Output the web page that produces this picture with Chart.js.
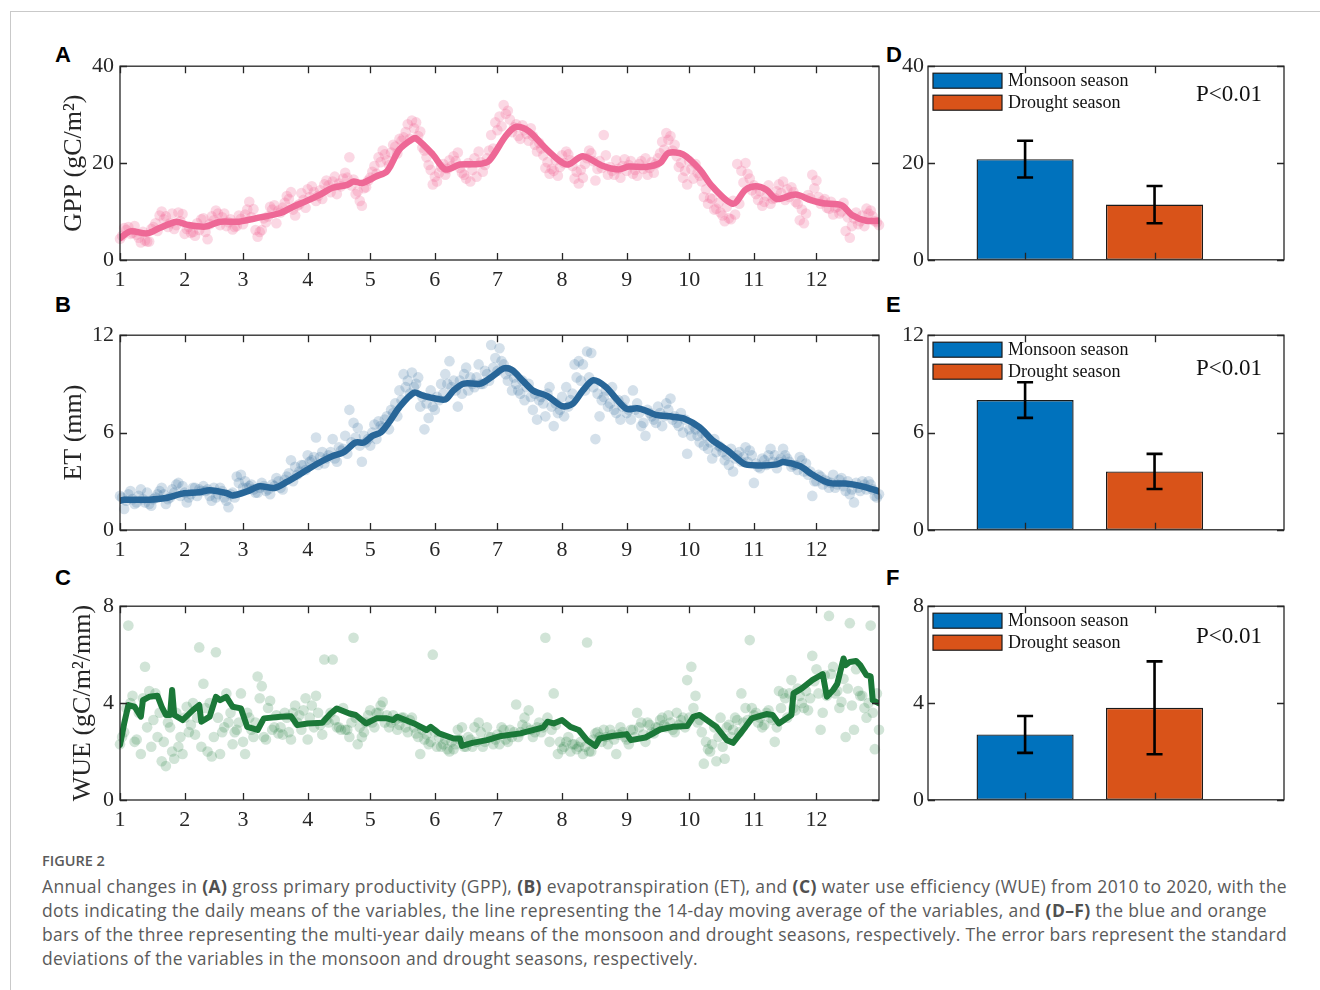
<!DOCTYPE html>
<html>
<head>
<meta charset="utf-8">
<script src="https://cdn.jsdelivr.net/npm/chart.js@4.4.1/dist/chart.umd.min.js"></script>
<style>
  body { margin: 0; background: #fff; }
  #page { position: relative; width: 1320px; height: 990px; overflow: hidden; background: #fff; }
  #frame { position: absolute; left: 10px; top: 11px; width: 1330px; height: 1000px;
           border-left: 1px solid #c9c9c9; border-top: 1px solid #c9c9c9; }
  canvas { position: absolute; }
  .letter { position: absolute; font: bold 22px "Liberation Sans", Arial, sans-serif; line-height: 22px; color: #000; }
  #figno { position: absolute; left: 42px; top: 851px; font: 600 14.5px "Open Sans", Lato, sans-serif; color: #5a5a5a; }
  #caption { position: absolute; left: 42px; top: 874px; font: 17.5px "Open Sans", Lato, sans-serif;
             line-height: 24px; color: #5a5a5a; white-space: nowrap; }
  #caption b { font-weight: 700; color: #505050; }
</style>
</head>
<body>
<div id="page">
  <div id="frame"></div>
  <div class="letter" style="left:55px;top:44px">A</div>
  <div class="letter" style="left:55px;top:294px">B</div>
  <div class="letter" style="left:55px;top:567px">C</div>
  <div class="letter" style="left:886px;top:44px">D</div>
  <div class="letter" style="left:886px;top:294px">E</div>
  <div class="letter" style="left:886px;top:567px">F</div>

  <canvas id="cA"></canvas>
  <canvas id="cB"></canvas>
  <canvas id="cC"></canvas>
  <canvas id="cD"></canvas>
  <canvas id="cE"></canvas>
  <canvas id="cF"></canvas>

  <div id="figno">FIGURE 2</div>
  <div id="caption"><span class="cl" data-w="1245">Annual changes in <b>(A)</b> gross primary productivity (GPP), <b>(B)</b> evapotranspiration (ET), and <b>(C)</b> water use efficiency (WUE) from 2010 to 2020, with the</span><br><span class="cl" data-w="1225">dots indicating the daily means of the variables, the line representing the 14-day moving average of the variables, and <b>(D–F)</b> the blue and orange</span><br><span class="cl" data-w="1245">bars of the three representing the multi-year daily means of the monsoon and drought seasons, respectively. The error bars represent the standard</span><br><span class="cl" data-w="656">deviations of the variables in the monsoon and drought seasons, respectively.</span></div>
</div>

<script>
// month ticks on a day-of-year axis
const monthStartDays = [1, 32, 60, 91, 121, 152, 182, 213, 244, 274, 305, 335];
const monthLabels = ["1", "2", "3", "4", "5", "6", "7", "8", "9", "10", "11", "12"];

// daily dots: odd days (1, 3 ... 365) and even days (2, 4 ... 364)
const oddDays = Array.from({ length: 183 }, (_, i) => 1 + 2 * i);
const evenDays = Array.from({ length: 182 }, (_, i) => 2 + 2 * i);

const gppDotsOdd = [
  4.4, 6.6, 6.8, 5.6, 5.2, 3.6, 4.0, 3.8, 6.8, 6.0,
  10.0, 9.0, 7.6, 6.4, 9.8, 9.5, 6.4, 5.6, 5.0, 6.2,
  8.6, 4.3, 9.0, 10.2, 7.2, 9.6, 7.8, 6.3, 7.0, 8.5,
  9.4, 12.0, 10.5, 4.8, 6.2, 7.8, 11.0, 11.3, 10.2, 10.8,
  13.2, 14.0, 9.2, 11.5, 12.4, 14.6, 15.2, 12.2, 14.4, 15.6,
  15.4, 16.2, 13.6, 15.2, 18.0, 21.2, 16.6, 14.2, 11.2, 15.0,
  17.0, 19.4, 21.2, 22.6, 20.6, 22.2, 23.4, 25.0, 25.3, 28.0,
  28.8, 28.4, 26.5, 22.6, 19.6, 15.6, 16.2, 19.2, 17.6, 20.6,
  21.4, 22.2, 18.0, 16.8, 16.2, 21.0, 22.4, 18.2, 21.0, 25.8,
  28.4, 29.6, 32.0, 30.8, 26.4, 28.0, 25.0, 26.8, 24.6, 25.6,
  22.4, 23.0, 19.0, 17.8, 18.4, 17.4, 21.6, 22.4, 20.6, 16.8,
  15.8, 17.0, 21.0, 22.0, 16.4, 20.4, 25.8, 17.6, 18.4, 20.6,
  17.0, 20.8, 19.6, 17.8, 17.4, 20.4, 21.0, 19.0, 18.0, 21.0,
  24.4, 26.2, 25.6, 23.8, 19.2, 17.0, 15.6, 18.8, 19.8, 17.4,
  13.0, 11.6, 12.6, 10.6, 9.8, 8.0, 8.6, 12.2, 19.8, 18.4,
  20.0, 16.8, 15.4, 12.4, 11.2, 13.2, 11.6, 12.8, 15.6, 16.2,
  14.6, 15.0, 12.0, 8.2, 7.6, 13.4, 17.6, 16.4, 11.6, 12.6,
  10.6, 9.4, 11.0, 10.0, 6.0, 4.6, 8.6, 7.4, 9.2, 10.6,
  10.2, 8.0, 7.2
];
const gppDotsEven = [
  5.0, 6.2, 5.4, 7.0, 4.6, 5.8, 3.8, 6.4, 7.6, 9.2,
  8.4, 6.8, 9.6, 7.2, 8.0, 5.4, 6.8, 5.8, 7.6, 8.4,
  5.8, 7.4, 8.2, 9.6, 8.8, 7.0, 8.4, 6.8, 9.2, 7.4,
  10.4, 8.8, 6.2, 5.8, 8.6, 9.0, 10.4, 7.6, 9.8, 11.8,
  12.6, 10.4, 11.2, 13.8, 10.8, 13.0, 14.0, 13.2, 12.6, 16.4,
  14.0, 17.2, 15.8, 16.8, 17.0, 15.4, 13.6, 12.2, 14.8, 16.4,
  18.2, 17.8, 20.2, 21.8, 19.6, 23.8, 22.0, 24.6, 26.4, 25.0,
  27.2, 25.6, 23.2, 21.2, 18.6, 17.2, 18.0, 19.8, 18.8, 19.4,
  20.4, 19.0, 17.6, 20.0, 18.6, 17.2, 20.2, 19.6, 22.6, 23.0,
  26.8, 27.6, 30.2, 29.0, 27.4, 25.6, 27.8, 26.0, 27.2, 23.8,
  24.2, 21.6, 20.2, 18.8, 20.6, 19.2, 20.0, 21.8, 19.4, 18.2,
  18.6, 19.8, 22.6, 20.4, 18.8, 19.0, 21.6, 19.2, 17.6, 18.8,
  19.4, 18.4, 20.4, 18.6, 19.8, 18.8, 17.6, 20.2, 19.8, 22.0,
  22.8, 24.8, 22.6, 21.4, 20.0, 18.4, 20.4, 16.8, 18.0, 16.2,
  14.6, 12.8, 10.4, 11.8, 9.2, 11.0, 8.4, 9.4, 11.6, 16.0,
  17.8, 14.4, 13.6, 14.2, 12.0, 15.4, 12.6, 14.2, 13.8, 12.4,
  13.0, 14.0, 11.6, 10.4, 9.6, 12.8, 14.8, 13.0, 12.2, 10.8,
  12.0, 10.8, 9.6, 11.8, 8.8, 7.0, 9.8, 8.0, 7.0, 9.6,
  9.0, 7.8
];
const gppLineDays = [
  1, 6, 14, 20, 28, 33, 42, 49, 58, 66, 78, 84, 90, 97, 103, 110, 113, 117, 124, 129,
  135, 141, 143, 151, 157, 164, 173, 178, 186, 191, 197, 205, 212, 216, 223, 232, 240, 245, 253, 260,
  264, 271, 279, 285, 295, 301, 306, 311, 316, 325, 332, 338, 347, 352, 359, 365
];
const gppLineVals = [
  4.5, 5.9, 5.5, 6.6, 7.9, 7.3, 6.9, 7.9, 7.9, 8.6, 9.7, 11.0, 12.1, 13.5, 14.9, 15.5, 16.2, 15.9, 17.3, 18.3,
  22.8, 24.9, 25.1, 21.8, 18.7, 19.7, 19.8, 20.5, 25.6, 27.5, 26.6, 23.1, 20.4, 19.7, 21.4, 19.5, 18.7, 19.3, 19.2, 20.0,
  22.1, 21.8, 18.7, 15.2, 11.6, 14.5, 15.2, 14.5, 12.6, 13.5, 12.4, 11.7, 11.3, 9.3, 8.1, 8.1
];

const etDotsOdd = [
  2.1, 1.3, 2.2, 1.9, 1.7, 2.5, 1.7, 1.6, 1.9, 2.2,
  2.6, 1.6, 2.0, 2.3, 2.9, 2.7, 1.7, 2.2, 2.6, 2.5,
  2.7, 2.5, 1.8, 2.0, 2.6, 2.0, 1.4, 2.3, 3.3, 3.4,
  3.0, 2.7, 2.5, 2.3, 2.9, 2.4, 2.2, 2.7, 3.0, 2.5,
  3.3, 4.3, 3.9, 3.6, 4.0, 4.6, 4.3, 5.7, 4.5, 4.1,
  4.6, 5.6, 4.2, 4.9, 5.8, 7.4, 6.6, 6.3, 4.2, 5.4,
  5.2, 6.5, 6.7, 6.3, 7.0, 7.4, 7.8, 8.6, 9.6, 9.2,
  9.7, 9.0, 7.6, 6.2, 6.9, 7.6, 8.2, 9.0, 9.6, 10.4,
  9.2, 7.6, 8.4, 10.0, 9.4, 8.8, 10.2, 9.0, 9.6, 11.4,
  10.6, 11.2, 10.2, 9.2, 8.6, 9.0, 8.4, 8.0, 9.0, 7.4,
  6.8, 8.2, 7.0, 8.8, 6.4, 7.2, 8.2, 8.8, 8.0, 10.2,
  10.4, 10.2, 11.0, 10.9, 5.6, 7.0, 8.2, 7.6, 8.8, 7.2,
  6.8, 8.0, 7.4, 8.6, 7.8, 6.4, 5.8, 7.2, 6.8, 7.6,
  6.4, 7.8, 8.1, 7.0, 6.4, 6.0, 4.7, 5.8, 6.2, 5.4,
  5.2, 5.0, 4.4, 4.8, 5.1, 4.3, 4.0, 3.6, 4.6, 4.2,
  5.1, 4.9, 2.9, 3.9, 4.4, 4.0, 5.0, 4.6, 4.2, 5.0,
  4.4, 3.9, 4.0, 4.5, 3.6, 3.4, 2.1, 3.0, 3.3, 3.1,
  2.6, 3.4, 2.8, 3.2, 2.4, 2.2, 1.7, 2.6, 3.0, 2.5,
  2.8, 2.1, 2.2
];
const etDotsEven = [
  2.0, 1.8, 2.4, 1.6, 2.1, 1.9, 2.3, 1.5, 2.0, 2.4,
  2.2, 1.9, 2.5, 2.8, 2.1, 2.3, 2.0, 2.6, 2.1, 2.4,
  2.4, 2.1, 2.6, 2.2, 2.4, 1.8, 2.2, 2.0, 2.9, 2.6,
  2.6, 2.8, 2.3, 2.6, 2.7, 2.5, 2.8, 3.2, 2.6, 3.1,
  3.5, 3.0, 3.4, 4.0, 3.7, 4.2, 4.5, 4.0, 4.8, 4.4,
  4.8, 4.4, 5.1, 5.0, 4.7, 5.4, 5.7, 5.2, 5.8, 5.6,
  6.0, 5.6, 6.4, 6.8, 6.2, 7.2, 7.0, 8.0, 8.8, 8.4,
  8.8, 9.4, 8.2, 7.8, 8.6, 7.4, 8.0, 8.4, 9.0, 8.8,
  8.6, 9.2, 9.6, 8.6, 9.0, 9.4, 9.0, 9.8, 9.2, 10.0,
  9.8, 10.4, 9.6, 9.8, 9.4, 8.6, 9.2, 8.8, 8.2, 8.4,
  8.0, 7.8, 8.4, 7.6, 7.8, 7.4, 7.0, 7.6, 8.4, 9.4,
  9.2, 8.6, 9.4, 8.8, 8.4, 8.0, 8.6, 7.8, 7.4, 8.0,
  7.6, 7.2, 6.8, 7.4, 7.2, 6.6, 7.4, 7.0, 6.6, 7.2,
  7.0, 7.4, 6.8, 6.6, 7.2, 6.8, 6.2, 6.4, 5.8, 6.0,
  5.8, 5.4, 5.6, 5.2, 4.8, 4.6, 5.0, 4.4, 4.8, 4.5,
  4.2, 4.6, 4.1, 3.8, 4.3, 4.6, 4.2, 3.8, 4.4, 4.6,
  4.2, 4.0, 3.7, 4.3, 4.1, 3.6, 3.0, 3.4, 2.8, 3.0,
  2.9, 2.6, 3.1, 2.7, 3.0, 2.5, 2.9, 2.4, 2.8, 3.0,
  2.5, 2.0
];
const etLineDays = [
  1, 3, 15, 23, 31, 39, 44, 52, 55, 62, 68, 75, 81, 91, 98, 103, 108, 114, 118, 122,
  126, 130, 135, 142, 146, 151, 157, 161, 166, 174, 180, 185, 189, 194, 199, 206, 213, 218, 223, 228,
  234, 239, 244, 249, 253, 258, 266, 272, 279, 285, 292, 297, 301, 309, 316, 319, 327, 333, 341, 349,
  357, 365
];
const etLineVals = [
  1.8, 1.86, 1.87, 1.97, 2.24, 2.32, 2.45, 2.28, 2.13, 2.38, 2.69, 2.59, 2.96, 3.73, 4.25, 4.56, 4.77, 5.39, 5.39, 5.80,
  6.01, 6.63, 7.57, 8.46, 8.29, 8.13, 8.04, 8.60, 9.02, 9.02, 9.5, 9.95, 9.85, 9.22, 8.60, 8.25, 7.63, 7.77, 8.60, 9.22,
  8.81, 8.08, 7.46, 7.5, 7.36, 7.09, 6.98, 6.84, 6.32, 5.55, 4.93, 4.40, 4.04, 3.98, 4.04, 4.19, 3.94, 3.42, 2.90, 2.86,
  2.69, 2.38
];

const wueDotsOdd = [
  2.3, 2.8, 7.2, 4.3, 2.5, 1.9, 5.5, 4.5, 3.3, 2.6,
  1.6, 1.4, 3.0, 1.7, 2.2, 1.9, 3.85, 3.1, 2.7, 6.3,
  4.8, 2.0, 1.8, 6.1, 1.9, 3.0, 3.2, 2.3, 2.9, 4.4,
  1.9, 3.4, 2.6, 5.1, 4.7, 2.5, 4.1, 3.0, 2.75, 2.7,
  3.4, 2.5, 3.9, 3.5, 3.7, 2.5, 3.9, 4.3, 3.1, 5.8,
  3.2, 5.8, 3.0, 2.9, 2.9, 2.6, 6.7, 2.3, 2.6, 3.2,
  3.7, 3.0, 3.6, 4.05, 3.5, 3.2, 3.3, 3.1, 3.4, 2.8,
  3.4, 2.75, 1.9, 2.5, 2.3, 6.0, 2.2, 2.2, 2.5, 2.0,
  2.1, 2.9, 3.0, 2.2, 2.5, 3.0, 3.2, 2.2, 3.0, 2.6,
  2.5, 2.3, 2.9, 2.4, 2.6, 3.94, 2.8, 3.4, 3.7, 2.6,
  3.0, 2.8, 6.7, 2.4, 4.4, 1.9, 2.1, 2.4, 2.0, 2.3,
  2.2, 1.9, 6.5, 2.0, 2.75, 2.6, 2.9, 2.3, 2.7, 1.9,
  3.0, 2.6, 2.3, 2.9, 3.6, 3.2, 2.4, 3.1, 2.75, 3.0,
  3.4, 3.0, 3.2, 2.8, 3.1, 3.4, 4.95, 5.5, 4.3, 3.3,
  1.5, 2.1, 2.3, 1.6, 3.4, 1.7, 3.1, 2.9, 3.3, 4.4,
  3.8, 6.6, 3.5, 3.2, 3.0, 3.6, 3.4, 2.4, 4.5, 4.4,
  3.4, 4.95, 3.7, 4.3, 3.8, 3.7, 5.95, 5.4, 2.9, 5.15,
  7.6, 5.5, 4.5, 4.05, 2.6, 7.3, 2.9, 4.5, 4.3, 3.4,
  7.2, 2.1, 2.9
];
const wueDotsEven = [
  2.6, 3.8, 4.0, 2.4, 3.6, 4.2, 3.0, 2.2, 4.4, 3.6,
  2.4, 3.2, 2.0, 3.6, 2.6, 3.4, 2.8, 4.0, 3.4, 2.2,
  3.8, 4.0, 2.6, 3.4, 2.8, 4.4, 3.6, 2.8, 3.2, 2.4,
  3.6, 2.9, 3.2, 4.2, 2.6, 3.8, 2.9, 3.5, 3.0, 3.6,
  2.8, 3.6, 3.2, 2.9, 4.2, 3.4, 3.0, 3.6, 2.7, 3.3,
  3.6, 3.3, 3.0, 3.8, 2.9, 3.2, 3.4, 3.0, 2.8, 3.5,
  3.2, 3.6, 3.9, 3.2, 3.0, 3.5, 2.9, 3.4, 3.0, 3.3,
  3.0, 2.6, 2.9, 2.7, 2.4, 2.8, 2.6, 2.3, 2.1, 2.4,
  2.3, 2.5, 2.2, 2.6, 2.2, 2.4, 2.8, 2.4, 2.6, 2.3,
  2.7, 3.0, 2.5, 2.9, 2.8, 2.6, 3.1, 3.0, 2.9, 2.8,
  3.2, 3.0, 3.4, 2.9, 3.1, 2.4, 2.2, 2.6, 2.3, 2.1,
  2.4, 2.2, 2.0, 2.5, 2.8, 2.4, 2.6, 2.9, 2.5, 2.7,
  2.8, 2.5, 2.9, 2.6, 3.0, 2.7, 3.2, 2.8, 3.0, 3.3,
  3.1, 3.5, 2.9, 3.6, 3.3, 3.0, 3.4, 3.8, 3.2, 2.8,
  2.4, 2.0, 3.0, 2.6, 2.2, 3.0, 2.6, 3.4, 2.8, 3.2,
  3.3, 3.8, 3.6, 3.4, 3.1, 3.7, 3.3, 3.0, 3.8, 4.2,
  4.4, 3.8, 4.6, 4.0, 4.5, 4.2, 4.9, 4.4, 3.6, 4.3,
  5.2, 4.4, 3.8, 5.0, 4.6, 3.9, 5.4, 4.3, 3.8, 4.0,
  3.6, 4.4
];
const wueLineDays = [
  1, 3, 5, 8, 11, 12, 15, 19, 21, 23, 25, 26, 27, 31, 36, 39, 40, 44, 47, 49,
  52, 55, 59, 62, 67, 70, 78, 83, 86, 91, 98, 102, 105, 111, 114, 119, 124, 129, 132, 134,
  142, 148, 150, 154, 161, 164, 165, 170, 177, 183, 193, 204, 206, 209, 213, 217, 221, 225, 229, 231,
  237, 244, 246, 253, 260, 266, 273, 276, 279, 287, 292, 295, 301, 304, 311, 314, 317, 323, 324, 328,
  333, 337, 338, 340, 343, 345, 348, 349, 351, 354, 356, 359, 361, 362, 365
];
const wueLineVals = [
  2.27, 3.16, 3.92, 3.85, 3.44, 4.12, 4.26, 4.3, 3.85, 3.51, 3.51, 4.54, 3.51, 3.30, 3.71, 3.92, 3.23, 3.44, 4.26, 4.12,
  4.26, 3.85, 3.78, 3.02, 2.89, 3.37, 3.44, 3.46, 3.09, 3.16, 3.19, 3.57, 3.78, 3.57, 3.51, 3.16, 3.37, 3.37, 3.30, 3.44,
  3.16, 2.89, 3.02, 2.75, 2.54, 2.54, 2.23, 2.36, 2.47, 2.63, 2.75, 3.0, 3.23, 3.16, 3.30, 3.02, 2.89, 2.47, 2.23, 2.54,
  2.64, 2.72, 2.47, 2.58, 2.91, 3.02, 3.05, 3.44, 3.51, 3.02, 2.47, 2.36, 3.02, 3.37, 3.55, 3.51, 3.16, 3.51, 4.40, 4.61,
  4.95, 5.15, 5.2, 4.26, 4.54, 4.8, 5.84, 5.57, 5.7, 5.74, 5.57, 5.15, 5.1, 4.12, 3.99
];

// seasonal means and standard deviations for GPP, ET, WUE
const seasons = ["Monsoon season", "Drought season"];
const monsoonMean = [20.8, 8.0, 2.7];
const monsoonSd = [3.8, 1.1, 0.76];
const droughtMean = [11.4, 3.6, 3.8];
const droughtSd = [3.85, 1.08, 1.92];

Chart.defaults.font.family = '"Liberation Serif", "Times New Roman", serif';
Chart.defaults.color = "#262626";
Chart.defaults.animation = false;
Chart.defaults.events = [];
Chart.defaults.plugins.legend.display = false;
Chart.defaults.plugins.tooltip.enabled = false;

const AXIS = "#262626";

// MATLAB-like box with inward ticks
const boxTicks = {
  id: "boxTicks",
  afterDraw(chart) {
    const { ctx, chartArea: a, scales: { x, y } } = chart;
    ctx.save();
    ctx.strokeStyle = AXIS;
    ctx.lineWidth = 1.3;
    ctx.strokeRect(a.left, a.top, a.right - a.left, a.bottom - a.top);
    ctx.beginPath();
    x.ticks.forEach((t) => {
      const px = Math.round(x.getPixelForValue(t.value)) + 0.5;
      ctx.moveTo(px, a.bottom); ctx.lineTo(px, a.bottom - 7);
      ctx.moveTo(px, a.top); ctx.lineTo(px, a.top + 7);
    });
    y.ticks.forEach((t) => {
      const py = Math.round(y.getPixelForValue(t.value)) + 0.5;
      ctx.moveTo(a.left, py); ctx.lineTo(a.left + 7, py);
      ctx.moveTo(a.right, py); ctx.lineTo(a.right - 7, py);
    });
    ctx.stroke();
    ctx.restore();
  }
};

const errorBars = {
  id: "errorBars",
  afterDatasetsDraw(chart) {
    const { ctx, scales: { x, y } } = chart;
    ctx.save();
    ctx.strokeStyle = "#000";
    ctx.lineWidth = 2.6;
    chart.data.datasets.forEach((ds) => {
      ds.data.forEach((p, j) => {
        const px = x.getPixelForValue(p.x);
        const top = y.getPixelForValue(p.y + ds.sd[j]);
        const bot = y.getPixelForValue(p.y - ds.sd[j]);
        ctx.beginPath();
        ctx.moveTo(px, top); ctx.lineTo(px, bot);
        ctx.moveTo(px - 8, top); ctx.lineTo(px + 8, top);
        ctx.moveTo(px - 8, bot); ctx.lineTo(px + 8, bot);
        ctx.stroke();
      });
    });
    ctx.restore();
  }
};

// legend inside the axes + P value
const insideLegend = {
  id: "insideLegend",
  afterDatasetsDraw(chart, args, opts) {
    const { ctx, chartArea: a } = chart;
    ctx.save();
    chart.data.datasets.forEach((ds, i) => {
      const top = a.top + 7 + i * 22;
      ctx.fillStyle = ds.backgroundColor;
      ctx.fillRect(a.left + 5, top, 69, 15);
      ctx.strokeStyle = "#1a1a1a";
      ctx.lineWidth = 1.2;
      ctx.strokeRect(a.left + 5, top, 69, 15);
      ctx.fillStyle = "#111";
      ctx.font = '18px "Liberation Serif", serif';
      ctx.textBaseline = "middle";
      ctx.textAlign = "left";
      ctx.fillText(ds.label, a.left + 80, top + 8);
    });
    ctx.font = '23px "Liberation Serif", serif';
    ctx.textAlign = "center";
    ctx.fillText("P<0.01", a.right - 55, a.top + opts.pY);
    ctx.restore();
  }
};

// build once, measure where the plot area fell, then rebuild so the axes box
// lands exactly on [top, bottom]
function makeChart(id, left, top, bottom, width, makeConfig) {
  const c = document.getElementById(id);
  c.width = width; c.height = bottom - top + 60;
  c.style.left = left + "px";
  let chart = new Chart(c, makeConfig());
  const a = chart.chartArea;
  const above = a.top, below = c.height - a.bottom;
  chart.destroy();
  c.width = width; c.height = bottom - top + above + below;
  c.style.width = width + "px"; c.style.height = c.height + "px";
  c.style.top = (top - above) + "px";
  chart = new Chart(c, makeConfig());
  return chart;
}

const linePanels = [
  { id: "cA", top: 66, bottom: 260, title: "GPP (gC/m²)", max: 40, step: 20, titlePad: 29,
    odd: gppDotsOdd, even: gppDotsEven, lineDays: gppLineDays, lineVals: gppLineVals,
    color: "rgb(238,104,150)", dot: "rgba(238,104,150,0.26)", width: 6.5, tension: 0.3 },
  { id: "cB", top: 335, bottom: 530, title: "ET (mm)", max: 12, step: 6, titlePad: 29,
    odd: etDotsOdd, even: etDotsEven, lineDays: etLineDays, lineVals: etLineVals,
    color: "rgb(40,102,152)", dot: "rgba(40,102,152,0.2)", width: 6.5, tension: 0.3 },
  { id: "cC", top: 606, bottom: 800, title: "WUE (gC/m²/mm)", max: 8, step: 4, titlePad: 38,
    odd: wueDotsOdd, even: wueDotsEven, lineDays: wueLineDays, lineVals: wueLineVals,
    color: "rgb(27,120,56)", dot: "rgba(27,120,56,0.2)", width: 6, tension: 0 }
];

linePanels.forEach((p) => {
  const dots = oddDays.map((d, i) => ({ x: d, y: p.odd[i] }))
    .concat(evenDays.map((d, i) => ({ x: d, y: p.even[i] })));
  makeChart(p.id, 30, p.top, p.bottom, 860, () => ({
    type: "line",
    data: {
      datasets: [
        {
          data: p.lineDays.map((d, i) => ({ x: d, y: p.lineVals[i] })),
          borderColor: p.color,
          borderWidth: p.width,
          borderJoinStyle: "round",
          borderCapStyle: "round",
          pointRadius: 0,
          tension: p.tension
        },
        {
          type: "scatter",
          data: dots,
          showLine: false,
          pointRadius: 5.3,
          pointBorderWidth: 0,
          pointBackgroundColor: p.dot,
          clip: false
        }
      ]
    },
    options: {
      responsive: false,
      maintainAspectRatio: false,
      layout: { padding: { top: 0, right: 11, left: 0, bottom: 0 } },
      scales: {
        x: {
          type: "linear",
          min: 1,
          max: 365,
          afterBuildTicks: (s) => { s.ticks = monthStartDays.map((v) => ({ value: v })); },
          afterFit: (s) => { s.height = 42; },
          ticks: {
            autoSkip: false,
            maxRotation: 0,
            padding: 7,
            font: { size: 22 },
            color: AXIS,
            callback: (v, i) => monthLabels[i]
          },
          grid: { display: false, drawTicks: false },
          border: { display: false }
        },
        y: {
          min: 0,
          max: p.max,
          afterFit: (s) => { s.width = 90; },
          ticks: { stepSize: p.step, padding: 6, font: { size: 22 }, color: AXIS },
          grid: { display: false, drawTicks: false },
          border: { display: false },
          title: {
            display: true,
            text: p.title,
            font: { size: 26 },
            color: AXIS,
            padding: { top: p.titlePad, bottom: 0 }
          }
        }
      }
    },
    plugins: [boxTicks]
  }));
});

const barPanels = [
  { id: "cD", top: 66, bottom: 260, max: 40, step: 20, pY: 29 },
  { id: "cE", top: 335, bottom: 530, max: 12, step: 6, pY: 34 },
  { id: "cF", top: 606, bottom: 800, max: 8, step: 4, pY: 31 }
];

barPanels.forEach((p, k) => {
  makeChart(p.id, 880, p.top, p.bottom, 420, () => ({
    type: "bar",
    data: {
      datasets: [
        {
          label: seasons[0],
          data: [{ x: 1, y: monsoonMean[k] }],
          sd: [monsoonSd[k]],
          backgroundColor: "#0072BD",
          borderColor: "#1a1a1a",
          borderWidth: 1.4,
          borderSkipped: false
        },
        {
          label: seasons[1],
          data: [{ x: 2, y: droughtMean[k] }],
          sd: [droughtSd[k]],
          backgroundColor: "#D95319",
          borderColor: "#1a1a1a",
          borderWidth: 1.4,
          borderSkipped: false
        }
      ]
    },
    options: {
      responsive: false,
      maintainAspectRatio: false,
      grouped: false,
      barPercentage: 0.75,
      categoryPercentage: 1,
      layout: { padding: { top: 0, right: 16, left: 0, bottom: 0 } },
      plugins: { insideLegend: { pY: p.pY } },
      scales: {
        x: {
          type: "linear",
          offset: false,
          min: 0.25,
          max: 3,
          afterBuildTicks: (s) => { s.ticks = [{ value: 1 }, { value: 2 }]; },
          afterFit: (s) => { s.height = 10; },
          ticks: { display: false },
          grid: { display: false, drawTicks: false, offset: false },
          border: { display: false }
        },
        y: {
          min: 0,
          max: p.max,
          afterFit: (s) => { s.width = 48; },
          ticks: { stepSize: p.step, padding: 4, font: { size: 22 }, color: AXIS },
          grid: { display: false, drawTicks: false },
          border: { display: false }
        }
      }
    },
    plugins: [boxTicks, errorBars, insideLegend]
  }));
});

// stretch each caption line to the width it has in the figure
document.querySelectorAll("#caption .cl").forEach((s) => {
  const w = s.getBoundingClientRect().width;
  s.style.letterSpacing = ((+s.dataset.w - w) / s.textContent.length).toFixed(3) + "px";
});
</script>
</body>
</html>
